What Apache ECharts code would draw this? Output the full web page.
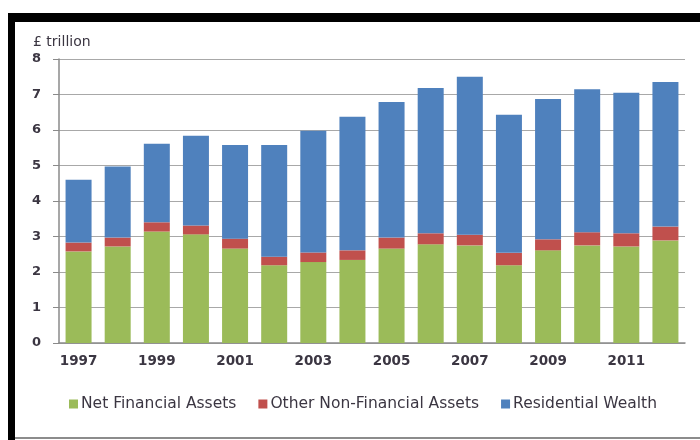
<!DOCTYPE html>
<html>
<head>
<meta charset="utf-8">
<script src="https://cdn.jsdelivr.net/npm/echarts@6/dist/echarts.min.js"></script>
<style>
  html, body { margin: 0; padding: 0; background: #fff; }
</style>
</head>
<body>
<div id="main" style="width: 700px;height:440px;"></div>
<script type="text/javascript">
    // 数据
    var years = ['1997', '1998', '1999', '2000', '2001', '2002', '2003', '2004',
                 '2005', '2006', '2007', '2008', '2009', '2010', '2011', '2012'];
    var netFinancial = [2.58, 2.72, 3.14, 3.06, 2.66, 2.19, 2.28, 2.34,
                        2.66, 2.78, 2.75, 2.19, 2.61, 2.75, 2.72, 2.89];
    var otherNonFinancial = [0.25, 0.25, 0.26, 0.25, 0.28, 0.24, 0.27, 0.27,
                             0.31, 0.31, 0.30, 0.35, 0.31, 0.37, 0.37, 0.39];
    var residential = [1.77, 2.00, 2.21, 2.53, 2.64, 3.15, 3.43, 3.76,
                       3.82, 4.09, 4.45, 3.89, 3.95, 4.03, 3.96, 4.07];
    var yTicks = [0, 1, 2, 3, 4, 5, 6, 7, 8];

    var myChart = echarts.init(document.getElementById('main'));

    var font = 'DejaVu Sans, Verdana, sans-serif';
    var textColor = '#3b3642';

    var option = {
        animation: false,
        backgroundColor: '#fff',
        title: {
            text: '£ trillion',
            left: 28,
            top: 30,
            textStyle: { fontFamily: font, fontSize: 14, fontWeight: 'normal', color: textColor }
        },
        graphic: [
            // black frame (top and left), grey bottom line
            { type: 'rect', shape: { x: 8, y: 13, width: 692, height: 9 }, style: { fill: '#000' } },
            { type: 'rect', shape: { x: 8, y: 13, width: 7, height: 427 }, style: { fill: '#000' } },
            { type: 'rect', shape: { x: 15, y: 437, width: 685, height: 2 }, style: { fill: '#8c8c8c' } }
        ],
        legend: {
            data: ['Net Financial Assets', 'Other Non-Financial Assets', 'Residential Wealth'],
            left: 64,
            top: 391,
            icon: 'rect',
            itemWidth: 9,
            itemHeight: 9,
            itemGap: 22,
            textStyle: { fontFamily: font, fontSize: 15.5, color: textColor, padding: [0, 0, 0, -2] }
        },
        grid: {
            left: 59,
            right: 15,
            top: 59,
            bottom: 97
        },
        xAxis: {
            type: 'category',
            data: years,
            axisLine: { lineStyle: { color: '#8a8a8a', width: 1.5 } },
            axisTick: { show: false },
            axisLabel: {
                interval: 1,
                margin: 11,
                fontFamily: font,
                fontSize: 13.5,
                fontWeight: 'bold',
                color: textColor
            }
        },
        yAxis: {
            type: 'value',
            min: yTicks[0],
            max: yTicks[yTicks.length - 1],
            interval: 1,
            axisLine: { show: true, lineStyle: { color: '#8a8a8a', width: 1.5 } },
            axisTick: { show: true, length: 6, lineStyle: { color: '#8a8a8a' } },
            splitLine: { lineStyle: { color: '#a8a8a8', width: 1.2 } },
            axisLabel: {
                margin: 18,
                fontFamily: font,
                fontSize: 13,
                fontWeight: 'bold',
                color: textColor
            }
        },
        series: [{
            name: 'Net Financial Assets',
            type: 'bar',
            stack: 'wealth',
            barWidth: 26,
            itemStyle: { color: '#9bbb59' },
            data: netFinancial
        }, {
            name: 'Other Non-Financial Assets',
            type: 'bar',
            stack: 'wealth',
            barWidth: 26,
            itemStyle: { color: '#c0504d' },
            data: otherNonFinancial
        }, {
            name: 'Residential Wealth',
            type: 'bar',
            stack: 'wealth',
            barWidth: 26,
            itemStyle: { color: '#4f81bd' },
            data: residential
        }]
    };

    myChart.setOption(option);
</script>
</body>
</html>
